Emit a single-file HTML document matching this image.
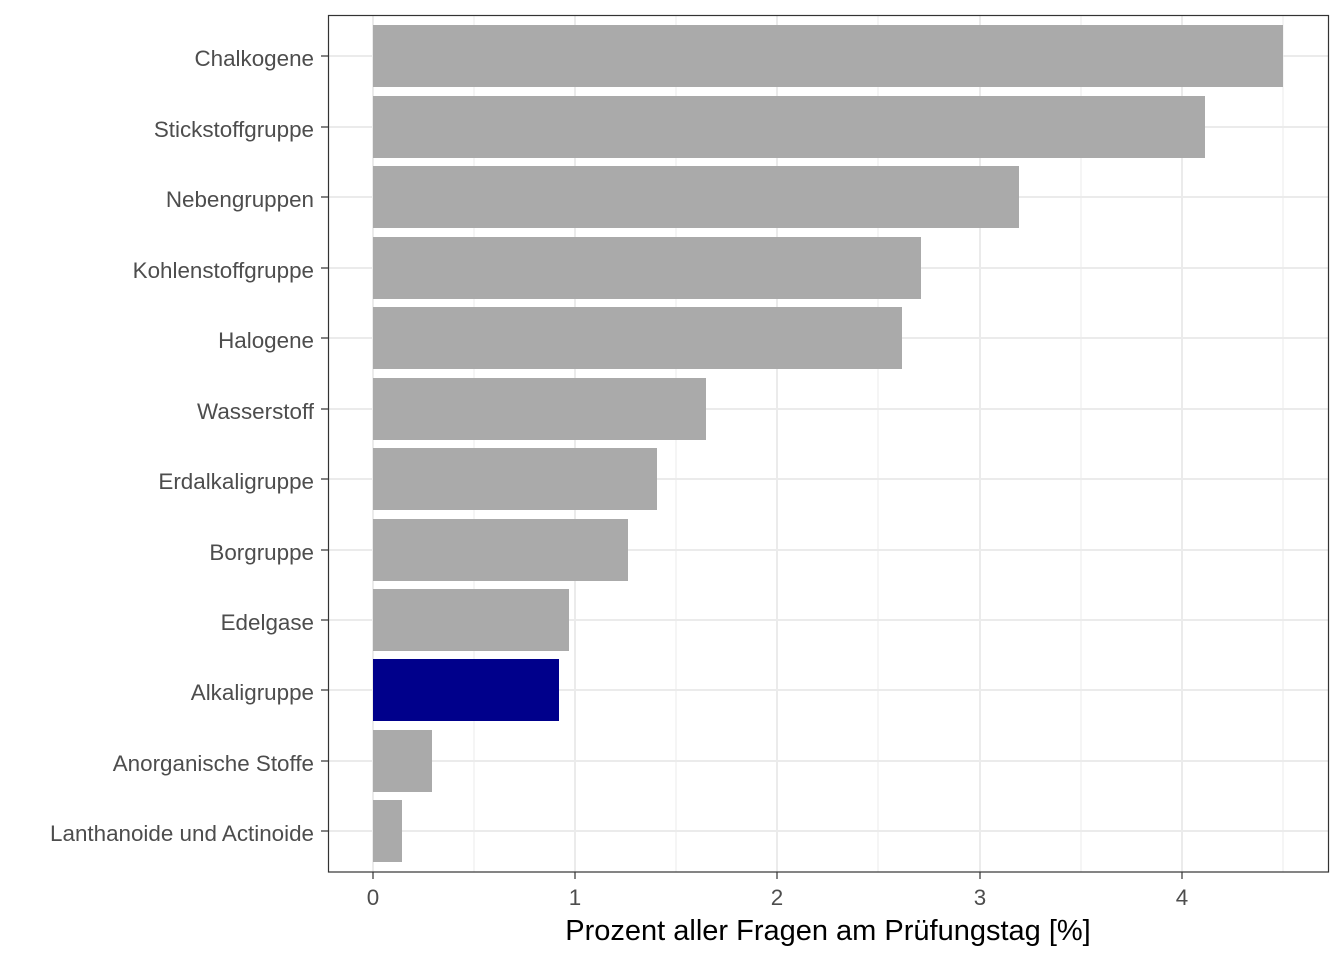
<!DOCTYPE html>
<html><head><meta charset="utf-8"><style>body{margin:0;background:#fff}</style></head><body>
<svg width="1344" height="960" xmlns="http://www.w3.org/2000/svg" font-family="Liberation Sans, sans-serif">
<rect x="0" y="0" width="1344" height="960" fill="#fff"/>
<g stroke="#ebebeb" stroke-width="1">
<line x1="474" y1="15" x2="474" y2="872"/><line x1="676" y1="15" x2="676" y2="872"/><line x1="878" y1="15" x2="878" y2="872"/><line x1="1081" y1="15" x2="1081" y2="872"/><line x1="1283" y1="15" x2="1283" y2="872"/>
</g>
<g stroke="#ebebeb" stroke-width="2">
<line x1="373" y1="15" x2="373" y2="872"/><line x1="575" y1="15" x2="575" y2="872"/><line x1="777" y1="15" x2="777" y2="872"/><line x1="980" y1="15" x2="980" y2="872"/><line x1="1182" y1="15" x2="1182" y2="872"/>
<line x1="328" y1="56" x2="1329" y2="56"/><line x1="328" y1="127" x2="1329" y2="127"/><line x1="328" y1="197" x2="1329" y2="197"/><line x1="328" y1="268" x2="1329" y2="268"/><line x1="328" y1="338" x2="1329" y2="338"/><line x1="328" y1="409" x2="1329" y2="409"/><line x1="328" y1="479" x2="1329" y2="479"/><line x1="328" y1="550" x2="1329" y2="550"/><line x1="328" y1="620" x2="1329" y2="620"/><line x1="328" y1="690" x2="1329" y2="690"/><line x1="328" y1="761" x2="1329" y2="761"/><line x1="328" y1="831" x2="1329" y2="831"/>
</g>
<g fill="#aaaaaa">
<rect x="373" y="25" width="910" height="62"/>
<rect x="373" y="96" width="832" height="62"/>
<rect x="373" y="166" width="646" height="62"/>
<rect x="373" y="237" width="548" height="62"/>
<rect x="373" y="307" width="529" height="62"/>
<rect x="373" y="378" width="333" height="62"/>
<rect x="373" y="448" width="284" height="62"/>
<rect x="373" y="519" width="255" height="62"/>
<rect x="373" y="589" width="196" height="62"/>
<rect x="373" y="730" width="59" height="62"/>
<rect x="373" y="800" width="29" height="62"/>
</g>
<rect x="373" y="659" width="186" height="62" fill="#00008b"/>
<rect x="328.5" y="15.5" width="1000" height="856.5" fill="none" stroke="#333" stroke-width="1.2"/>
<g stroke="#333" stroke-width="1.2">
<line x1="321" y1="56" x2="328" y2="56"/><line x1="321" y1="127" x2="328" y2="127"/><line x1="321" y1="197" x2="328" y2="197"/><line x1="321" y1="268" x2="328" y2="268"/><line x1="321" y1="338" x2="328" y2="338"/><line x1="321" y1="409" x2="328" y2="409"/><line x1="321" y1="479" x2="328" y2="479"/><line x1="321" y1="550" x2="328" y2="550"/><line x1="321" y1="620" x2="328" y2="620"/><line x1="321" y1="690" x2="328" y2="690"/><line x1="321" y1="761" x2="328" y2="761"/><line x1="321" y1="831" x2="328" y2="831"/>
<line x1="373" y1="872" x2="373" y2="879"/><line x1="575" y1="872" x2="575" y2="879"/><line x1="777" y1="872" x2="777" y2="879"/><line x1="980" y1="872" x2="980" y2="879"/><line x1="1182" y1="872" x2="1182" y2="879"/>
</g>
<g fill="#4d4d4d" font-size="22.4" text-anchor="end">
<text x="314" y="66">Chalkogene</text>
<text x="314" y="137">Stickstoffgruppe</text>
<text x="314" y="207">Nebengruppen</text>
<text x="314" y="278">Kohlenstoffgruppe</text>
<text x="314" y="348">Halogene</text>
<text x="314" y="419">Wasserstoff</text>
<text x="314" y="489">Erdalkaligruppe</text>
<text x="314" y="560">Borgruppe</text>
<text x="314" y="630">Edelgase</text>
<text x="314" y="700">Alkaligruppe</text>
<text x="314" y="771">Anorganische Stoffe</text>
<text x="314" y="841">Lanthanoide und Actinoide</text>
</g>
<g fill="#4d4d4d" font-size="22.4" text-anchor="middle">
<text x="373" y="905">0</text><text x="575" y="905">1</text><text x="777" y="905">2</text><text x="980" y="905">3</text><text x="1182" y="905">4</text>
</g>
<text x="828" y="940" font-size="29" text-anchor="middle" fill="#000">Prozent aller Fragen am Prüfungstag [%]</text>
</svg>
</body></html>
